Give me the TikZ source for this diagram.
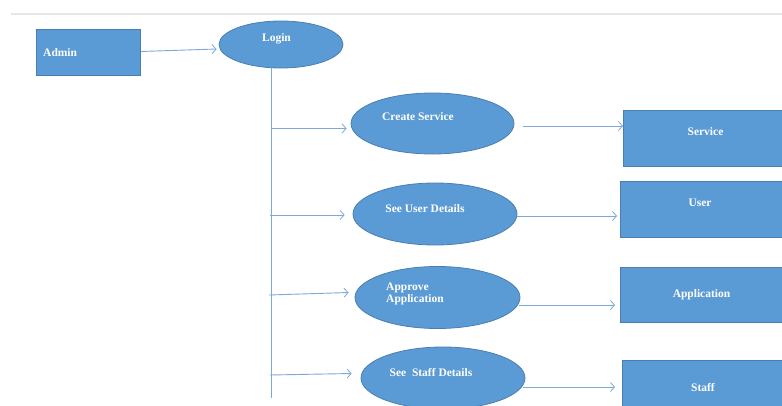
\documentclass[tikz,border=0pt]{standalone}
\usepackage{fontspec}
\setmainfont{Liberation Serif}
\usetikzlibrary{shapes.geometric,arrows.meta}
\definecolor{boxfill}{HTML}{5B9BD5}
\definecolor{boxline}{HTML}{4A7EB0}
\definecolor{arrowc}{HTML}{7EA8D6}
\definecolor{topline}{HTML}{E6E6E6}
\tikzset{
  rectbox/.style={draw=boxline, line width=0.8pt, fill=boxfill, rectangle, inner sep=0pt, anchor=north west},
  ovalbox/.style={draw=boxline, line width=0.8pt, fill=boxfill, ellipse, inner sep=0pt},
  lbl/.style={text=white, font=\fontsize{11.5}{12}\selectfont\bfseries, inner sep=0pt},
  conn/.style={draw=arrowc, line width=0.9pt, -{Straight Barb[length=4pt,width=9pt,line width=0.8pt]}},
  trunkline/.style={draw=arrowc, line width=0.9pt}
}
\begin{document}
\begin{tikzpicture}[x=1pt,y=-1pt]
\useasboundingbox (0,0) rectangle (782,405);
\clip (0,0) rectangle (782,405);
\fill[white] (0,0) rectangle (782,405);
\draw[topline, line width=1.5pt] (11,14) -- (782,14);

% shapes
\node[rectbox, minimum width=104pt, minimum height=46pt] (admin) at (36,29) {};
\node[ovalbox, minimum width=124pt, minimum height=47pt] (login) at (281,44.5) {};
\node[ovalbox, minimum width=163pt, minimum height=61pt] (create) at (432.5,123.5) {};
\node[ovalbox, minimum width=164pt, minimum height=62pt] (seeuser) at (435,214) {};
\node[ovalbox, minimum width=165pt, minimum height=62pt] (approve) at (437.5,297.5) {};
\node[ovalbox, minimum width=164pt, minimum height=62pt] (seestaff) at (443,378) {};
\node[rectbox, minimum width=165pt, minimum height=56pt] (service) at (623,110) {};
\node[rectbox, minimum width=165pt, minimum height=56pt] (user) at (620,181) {};
\node[rectbox, minimum width=165pt, minimum height=55pt] (application) at (620,267) {};
\node[rectbox, minimum width=165pt, minimum height=56pt] (staff) at (622,360) {};

% labels
\node[lbl, anchor=west] (tadmin) at (43,53) {Admin};
\node[lbl] (tlogin) at (276.5,38.5) {Login};
\node[lbl] (tcreate) at (418,117) {Create Service};
\node[lbl] (tseeuser) at (425,209) {See User Details};
\node[lbl, anchor=west, align=left, font=\fontsize{11.5}{12.5}\selectfont\bfseries] (tapprove) at (386,294) {Approve\\Application};
\node[lbl] (tseestaff) at (431,373) {See\ \ Staff Details};
\node[lbl] (tservice) at (705.5,132) {Service};
\node[lbl] (tuser) at (700,203) {User};
\node[lbl] (tapplication) at (701.5,294.5) {Application};
\node[lbl] (tstaff) at (703,388) {Staff};

% trunk
\coordinate (ttop) at (271,68);
\coordinate (tbot) at (271,398);
\coordinate (b1) at (271,128.5);
\coordinate (b2) at (270,215);
\coordinate (b3) at (269,295);
\coordinate (b4) at (270,375);
\draw[trunkline] (ttop) -- (tbot);

% connectors
\draw[conn] (admin.east |- 0,51.5) -- ([xshift=-2pt]login.west |- 0,49);
\draw[conn] (b1) -- ([xshift=-4pt]create.west |- 0,128.5);
\draw[conn] (b2) -- ([xshift=-8pt]seeuser.west |- 0,215);
\draw[conn] (b3) -- ([xshift=-6pt]approve.west |- 0,292.5);
\draw[conn] (b4) -- ([xshift=-9pt]seestaff.west |- 0,373.5);
\draw[conn] ([xshift=9pt]create.east |- 0,126) -- (service.west |- 0,126);
\draw[conn] ([xshift=0pt]seeuser.east |- 0,216) -- ([xshift=-3pt]user.west |- 0,216);
\draw[conn] ([xshift=-1pt]approve.east |- 0,305) -- ([xshift=-5pt]application.west |- 0,305);
\draw[conn] ([xshift=-2pt]seestaff.east |- 0,387) -- ([xshift=-7pt]staff.west |- 0,387);
\end{tikzpicture}
\end{document}
